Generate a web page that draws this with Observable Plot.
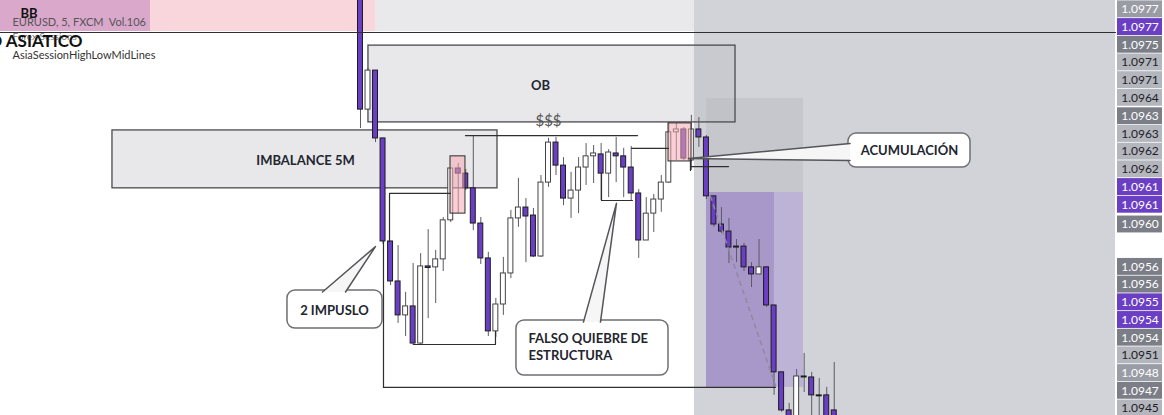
<!DOCTYPE html>
<html><head><meta charset="utf-8">
<script src="https://cdn.jsdelivr.net/npm/d3@7"></script>
<script src="https://cdn.jsdelivr.net/npm/@observablehq/plot@0.6"></script>
<style>
body{margin:0;background:#fff;}
#wrap{position:relative;width:1164px;height:415px;overflow:hidden;background:#fff;}
#wrap svg{position:absolute;top:0;}
</style></head><body><div id="wrap"></div>
<script>
// ---- candle data (EURUSD 5m, FXCM), bar index 0..63 ----
const open  = [1.096725,1.096359,1.096481,1.096269,1.095947,1.095822,1.095716,1.095744,1.095628,1.095869,1.095866,1.095891,1.096013,1.096175,1.096159,1.096113,1.096003,1.095894,1.095666,1.095750,1.095847,1.096019,1.096053,1.096028,1.095900,1.096131,1.096256,1.096184,1.096081,1.096106,1.096178,1.096213,1.096219,1.096159,1.096222,1.096213,1.096178,1.096097,1.095950,1.096034,1.096078,1.096131,1.096288,1.096297,1.096200,1.096297,1.096272,1.096088,1.096000,1.095978,1.095931,1.095931,1.095866,1.095844,1.095866,1.095747,1.095538,1.095419,1.095372,1.095525,1.095522,1.095466,1.095466,1.095419];
const high  = [1.096747,1.096488,1.096481,1.096269,1.095947,1.095934,1.095788,1.095878,1.095909,1.095984,1.095919,1.096022,1.096175,1.096191,1.096172,1.096275,1.096022,1.095913,1.095769,1.095897,1.096044,1.096144,1.096081,1.096050,1.096153,1.096269,1.096272,1.096209,1.096163,1.096209,1.096253,1.096247,1.096253,1.096234,1.096272,1.096238,1.096244,1.096109,1.096084,1.096094,1.096153,1.096316,1.096316,1.096303,1.096341,1.096334,1.096278,1.096088,1.096053,1.096019,1.095953,1.095941,1.095881,1.095953,1.095869,1.095747,1.095538,1.095441,1.095547,1.095597,1.095538,1.095519,1.095491,1.095569];
const low   = [1.096300,1.096356,1.096256,1.095938,1.095809,1.095691,1.095650,1.095622,1.095622,1.095706,1.095753,1.095853,1.096006,1.096034,1.096106,1.095981,1.095875,1.095650,1.095647,1.095716,1.095831,1.095991,1.095881,1.095897,1.095897,1.096116,1.096153,1.096059,1.096019,1.096034,1.096122,1.096128,1.096075,1.096084,1.096131,1.096084,1.096075,1.095894,1.095950,1.095975,1.096038,1.096128,1.096200,1.096200,1.096169,1.096241,1.096078,1.095991,1.095972,1.095878,1.095881,1.095853,1.095803,1.095844,1.095741,1.095466,1.095413,1.095341,1.095356,1.095475,1.095388,1.095356,1.095356,1.095309];
const close = [1.096359,1.096481,1.096269,1.095947,1.095822,1.095716,1.095744,1.095628,1.095869,1.095864,1.095891,1.096013,1.096175,1.096159,1.096113,1.096003,1.095894,1.095666,1.095750,1.095847,1.096019,1.096053,1.096025,1.095900,1.096131,1.096256,1.096184,1.096081,1.096106,1.096178,1.096213,1.096222,1.096159,1.096225,1.096213,1.096178,1.096097,1.095950,1.096034,1.096078,1.096131,1.096288,1.096297,1.096206,1.096297,1.096272,1.096088,1.096000,1.095978,1.095928,1.095928,1.095866,1.095844,1.095866,1.095747,1.095538,1.095419,1.095356,1.095525,1.095522,1.095466,1.095463,1.095372,1.095325];

// ---- price-axis labels (top to bottom) ----
const axisPrices = [1.0977,1.0977,1.0975,1.0971,1.0971,1.0964,1.0963,1.0963,1.0962,1.0962,1.0961,1.0961,1.0960,1.0956,1.0956,1.0955,1.0954,1.0954,1.0951,1.0948,1.0947,1.0945];
const axisKinds  = ["m","p","d","l","l","l","d","l","l","l","p","p","d","d","d","p","p","d","l","m","d","l"];

// ---- visible window (bar index / price) ----
const xDomain = [-47.87, 100.4];
const yTop = 1.0967, pxPerPrice = 320000;

// ---- zones (bar index x1,x2 ; price y1,y2 ; null = window edge) ----
const zoneX1 = [-47.87, -47.87, 1.99, 44.41, 46.01, 46.01, 55.05];
const zoneX2 = [1.99, -27.93, 44.41, 100.4, 58.91, 55.05, 58.91];
const zoneY1 = [1.096603, 1.096603, 1.096603, null, 1.096100, 1.095491, 1.095491];
const zoneY2 = [null, null, null, null, 1.096394, 1.096100, 1.096100];
const zoneFill = ["#f9d6dc", "#d9a8cb", "#e9e9eb", "#d1d3d8", "#c5c7cc", "#a898c9", "#bcb3d6"];

// ---- drawn boxes ----
const boxLabel = ["OB", "IMBALANCE 5M"];
const boxX1 = [1.06, -32.98], boxX2 = [49.87, 18.22];
const boxY1 = [1.096319, 1.096113], boxY2 = [1.096559, 1.096294];
const boxTextX = [23.94, -7.31], boxTextY = [1.096434, 1.096200];

const pinkX1 = [11.97, 40.96], pinkX2 = [13.96, 44.02];
const pinkY1 = [1.096034, 1.096197], pinkY2 = [1.096213, 1.096316];

// ---- drawn lines (polylines) ----
const lineId = [0,0, 1,1, 2,2, 3,3,3, 4,4,4, 5,5,5, 6,6, 7,7, 8,8, 9,9];
const lineX  = [-47.87,100.4, 3.06,55.19, 13.96,36.84, 3.86,3.86,11.97, 7.05,17.95,17.95, 32.05,32.05,36.17, 36.04,40.96, 43.88,48.94, 43.88,43.88, 3.06,3.06];
const lineY  = [1.096600,1.096600, 1.095491,1.095491, 1.096278,1.096278, 1.095947,1.096097,1.096097, 1.095625,1.095625,1.095666, 1.096159,1.096075,1.096075, 1.096238,1.096238, 1.096181,1.096181, 1.096206,1.096169, 1.095947,1.095491];
const dashX = [46.54, 55.19], dashY = [1.096088, 1.095497];

// ---- callouts ----
const calloutText = ["2 IMPUSLO", "FALSO QUIEBRE DE\nESTRUCTURA", "ACUMULACIÓN"];
const calloutX1 = [-9.71, 20.74, 64.89], calloutX2 = [2.93, 40.96, 81.12];
const calloutY1 = [1.095675, 1.095528, 1.096178], calloutY2 = [1.095794, 1.095700, 1.096284];
const calloutTextX = [-3.46, 22.34, 73.0], calloutTextY = [1.095731, 1.095619, 1.096231];
const calloutAnchor = ["middle", "start", "middle"];
const pointerId = [0,0,0, 1,1,1, 2,2,2];
const pointerX = [-5.05, 1.99, -1.99, 29.65, 34.04, 31.91, 65.1, 43.62, 65.1];
const pointerY = [1.095789, 1.095931, 1.095789, 1.095695, 1.096066, 1.095695, 1.096253, 1.096206, 1.096200];

const sss = {x: 25.0, y: 1.096322, text: "$$$"};

// ---- build ----
const W = 1164, H = 415, AXW = 49;
const yBottom = yTop - H / pxPerPrice;
const candles = open.map((o, i) => ({i, o, h: high[i], l: low[i], c: close[i], up: close[i] > o}));
const zones = zoneFill.map((f, k) => ({x1: zoneX1[k], x2: zoneX2[k], y1: zoneY1[k] ?? yBottom, y2: zoneY2[k] ?? yTop, f}));
const boxes = boxLabel.map((t, k) => ({t, x1: boxX1[k], x2: boxX2[k], y1: boxY1[k], y2: boxY2[k], tx: boxTextX[k], ty: boxTextY[k]}));
const pinks = pinkX1.map((x, k) => ({x1: x, x2: pinkX2[k], y1: pinkY1[k], y2: pinkY2[k]}));
const lines = lineId.map((id, k) => ({id, x: lineX[k], y: lineY[k]}));
const dash = dashX.map((x, k) => ({x, y: dashY[k]}));
const callouts = calloutText.map((t, k) => ({t, x1: calloutX1[k], x2: calloutX2[k], y1: calloutY1[k], y2: calloutY2[k], tx: calloutTextX[k], ty: calloutTextY[k], a: calloutAnchor[k]}));
const pointers = pointerId.map((id, k) => ({id, x: pointerX[k], y: pointerY[k]}));

const FONT = "Lato, 'Open Sans', sans-serif";
const INK = "#23262f";

const main = Plot.plot({
  width: W, height: H,
  marginLeft: 0, marginRight: AXW, marginTop: 0, marginBottom: 0,
  x: {domain: xDomain, axis: null},
  y: {domain: [yBottom, yTop], axis: null},
  style: {background: "transparent", fontFamily: FONT},
  marks: [
    Plot.rect(zones, {x1: "x1", x2: "x2", y1: "y1", y2: "y2", fill: "f"}),
    Plot.rect(boxes, {x1: "x1", x2: "x2", y1: "y1", y2: "y2", fill: "#b9bac0", fillOpacity: 0.33, stroke: "#4a4a4f", strokeWidth: 1.3}),
    Plot.ruleX(candles, {x: "i", y1: "l", y2: "h", stroke: "#5b5b63", strokeWidth: 1, clip: true}),
    Plot.rect(candles, {x1: d => d.i - 0.33, x2: d => d.i + 0.33, y1: "o", y2: "c",
      fill: d => d.up ? "#ffffff" : "#6a3ec6", stroke: d => d.up ? "#444" : "#1c1c1c", strokeWidth: 1, clip: true}),
    Plot.rect(pinks, {x1: "x1", x2: "x2", y1: "y1", y2: "y2", fill: "#f2a9b3", fillOpacity: 0.55, stroke: "#2b2b2b", strokeWidth: 1}),
    Plot.line(lines, {x: "x", y: "y", z: "id", stroke: "#2e2e33", strokeWidth: 1.2}),
    Plot.line(dash, {x: "x", y: "y", stroke: "#8d8a9c", strokeWidth: 1.5, strokeDasharray: "4,5"}),
    Plot.text(boxes, {x: "tx", y: "ty", text: "t", fill: INK, fontSize: 13, fontWeight: "bold"}),
    Plot.text([sss], {x: "x", y: "y", text: "text", fill: "#555", fontSize: 15}),
    Plot.rect(callouts, {x1: "x1", x2: "x2", y1: "y1", y2: "y2", fill: "#fff", stroke: "#6f6f74", strokeWidth: 1.5, rx: 8}),
    Plot.line(pointers, {x: "x", y: "y", z: "id", fill: "#f6f6f7", stroke: "#55555a", strokeWidth: 1.5}),
    Plot.text(callouts, {filter: d => d.a === "middle", x: "tx", y: "ty", text: "t", textAnchor: "middle", fill: INK, fontSize: 13, fontWeight: "bold"}),
    Plot.text(callouts, {filter: d => d.a === "start", x: "tx", y: "ty", text: "t", textAnchor: "start", fill: INK, fontSize: 13, fontWeight: "bold", lineHeight: 1.3}),
    Plot.text(["BB"], {frameAnchor: "top-left", dx: 20, dy: 8, fontSize: 13, fontWeight: "bold", fill: "#111"}),
    Plot.text(["EURUSD, 5, FXCM  Vol.106"], {frameAnchor: "top-left", dx: 12, dy: 18, fontSize: 11, fill: "#555"}),
    Plot.text(["Forex Sessions"], {frameAnchor: "top-left", dx: 12, dy: 32, fontSize: 10, fill: "#777"}),
    Plot.text(["RANGO ASIATICO"], {frameAnchor: "top-left", textAnchor: "end", dx: 82, dy: 34, fontSize: 17, fontWeight: "bold", fill: "#111"}),
    Plot.text(["AsiaSessionHighLowMidLines"], {frameAnchor: "top-left", dx: 12, dy: 51, fontSize: 11, fill: "#333"})
  ]
});
main.style.left = "0px";
document.getElementById("wrap").appendChild(main);

// ---- price axis: each label at its price, clamped into the pane and pushed apart where they overlap ----
const LABEL_H = 17.7, TOP_C = 8.85, BOT_C = 408;
function stackLabels(ys, h, lo, hi) {
  const order = d3.range(ys.length).sort((a, b) => ys[a] - ys[b]);
  const clusters = order.map(k => [k]);
  const place = c => {
    const n = c.length, m = d3.mean(c, k => ys[k]);
    let s = m - (n - 1) / 2 * h;
    s = Math.min(Math.max(s, lo), hi - (n - 1) * h);
    return c.map((k, j) => s + j * h);
  };
  let merged = true;
  while (merged) {
    merged = false;
    for (let j = 0; j < clusters.length - 1; j++) {
      const a = place(clusters[j]), b = place(clusters[j + 1]);
      if (a[a.length - 1] + h > b[0] + 0.01) { clusters.splice(j, 2, clusters[j].concat(clusters[j + 1])); merged = true; break; }
    }
  }
  const out = new Array(ys.length);
  clusters.forEach(c => { const p = place(c); c.forEach((k, j) => out[k] = p[j]); });
  return out;
}
const desired = axisPrices.map(p => (yTop - p) * pxPerPrice);
const placed = stackLabels(desired, LABEL_H, TOP_C, BOT_C);
const half = LABEL_H / 2 / pxPerPrice;
const axisData = axisPrices.map((p, k) => ({label: p.toFixed(4), kind: axisKinds[k], yc: yTop - placed[k] / pxPerPrice}));
const bg = {p: "#6b3fc4", d: "#7b7e87", m: "#9a9ca5", l: "#b4b6bd"};
const fg = {p: "#ffffff", d: "#ffffff", m: "#ffffff", l: "#1e2026"};
const axis = Plot.plot({
  width: AXW, height: H, margin: 0,
  x: {domain: [0, 1], axis: null},
  y: {domain: [yBottom, yTop], axis: null},
  style: {background: "transparent", fontFamily: FONT},
  marks: [
    Plot.rect(axisData, {x1: 0, x2: 1, y1: d => d.yc - half, y2: d => d.yc + half, fill: d => bg[d.kind], insetLeft: 2, insetRight: 2, insetTop: 0.4, insetBottom: 0.4}),
    Plot.text(axisData, {x: 0.5, y: "yc", text: "label", fill: d => fg[d.kind], fontSize: 12})
  ]
});
axis.style.left = (W - AXW) + "px";
document.getElementById("wrap").appendChild(axis);
</script>
</body></html>
